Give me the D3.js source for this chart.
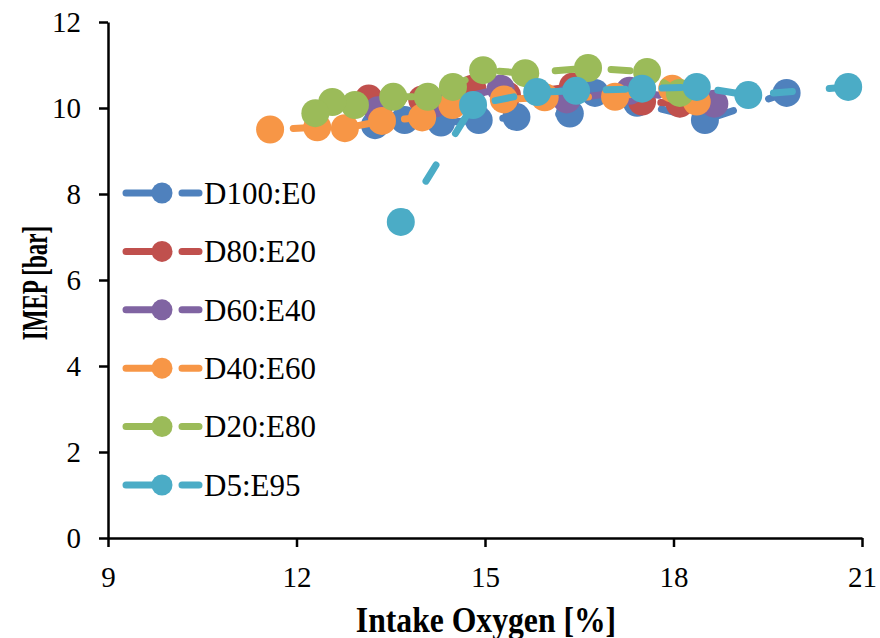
<!DOCTYPE html>
<html lang="en">
<head>
<meta charset="UTF-8">
<title>IMEP vs Intake Oxygen</title>
<script src="https://d3js.org/d3.v7.min.js"></script>
<style>
  body { margin: 0; background: #fff; }
  text { font-family: "Liberation Serif", "Times New Roman", serif; fill: #000; }
  .axis-title { font-weight: bold; }
  .tick-label { font-size: 29px; }
  .legend-label { font-size: 31px; }
</style>
</head>
<body>
<script>
// series names in legend order
const seriesNames = ["D100:E0", "D80:E20", "D60:E40", "D40:E60", "D20:E80", "D5:E95"];
const seriesColors = ["#4F81BD", "#C0504D", "#8064A2", "#F79646", "#9BBB59", "#4BACC6"];

// [intake O2 %, IMEP bar], in measurement order (high O2 -> low O2)
const d100e0 = [[19.8, 10.35], [18.5, 9.72], [17.42, 10.12], [16.75, 10.35], [16.35, 9.87],
                [15.5, 9.79], [14.9, 9.72], [14.3, 9.66], [13.72, 9.72], [13.25, 9.6]];
const d80e20 = [[18.1, 10.1], [17.5, 10.15], [16.4, 10.5], [15.35, 10.3], [14.8, 10.45],
                [14.0, 10.2], [13.15, 10.22]];
const d60e40 = [[18.65, 10.1], [17.3, 10.4], [16.3, 10.2], [15.25, 10.45], [14.2, 10.1],
                [13.3, 9.95]];
const d40e60 = [[18.37, 10.15], [17.98, 10.45], [17.07, 10.26], [15.95, 10.25], [15.3, 10.2],
                [14.48, 10.07], [14.0, 9.78], [13.36, 9.7], [12.77, 9.53], [12.33, 9.55], [11.58, 9.5]];
const d20e80 = [[18.1, 10.35], [17.58, 10.84], [16.64, 10.93], [15.64, 10.81], [14.97, 10.88],
                [14.49, 10.49], [14.09, 10.26], [13.54, 10.26], [12.93, 10.07], [12.57, 10.14], [12.3, 9.88]];
const d5e95 = [[20.78, 10.49], [19.19, 10.3], [18.37, 10.49], [17.5, 10.45], [16.45, 10.4],
               [15.83, 10.37], [14.81, 10.07], [13.66, 7.35]];

const allSeries = [d100e0, d80e20, d60e40, d40e60, d20e80, d5e95];

const xTicks = [9, 12, 15, 18, 21];
const yTicks = [0, 2, 4, 6, 8, 10, 12];

const width = 880, height = 638;
const plotLeft = 108, plotRight = 862, plotTop = 22, plotBottom = 538;

const svg = d3.select("body").append("svg")
    .attr("width", width)
    .attr("height", height);

const x = d3.scaleLinear().domain([9, 21]).range([plotLeft, plotRight]);
const y = d3.scaleLinear().domain([0, 12]).range([plotBottom, plotTop]);

// axes
const xAxis = svg.append("g")
    .attr("transform", `translate(0,${plotBottom})`)
    .call(d3.axisBottom(x).tickValues(xTicks).tickSize(9).tickSizeOuter(0).tickPadding(19));
const yAxis = svg.append("g")
    .attr("transform", `translate(${plotLeft},0)`)
    .call(d3.axisLeft(y).tickValues(yTicks).tickSize(9).tickSizeOuter(0).tickPadding(18));

[xAxis, yAxis].forEach(g => {
    g.attr("font-family", null).attr("font-size", null);
    g.select(".domain").attr("stroke", "#000").attr("stroke-width", 2.5);
    g.selectAll(".tick line").attr("stroke", "#000").attr("stroke-width", 2.5);
    g.selectAll(".tick text").attr("class", "tick-label");
});
xAxis.selectAll(".tick text").attr("dy", "0.71em");
yAxis.selectAll(".tick text").attr("dy", "0.34em");

// axis titles (the original uses a narrow bold serif)
svg.append("text")
    .attr("class", "axis-title")
    .attr("transform", `translate(486,632) scale(0.88,1)`)
    .attr("font-size", 36)
    .attr("text-anchor", "middle")
    .text("Intake Oxygen [%]");

svg.append("text")
    .attr("class", "axis-title")
    .attr("transform", `translate(47,283) rotate(-90) scale(0.64,1)`)
    .attr("font-size", 36)
    .attr("text-anchor", "middle")
    .text("IMEP [bar]");

// series
const line = d3.line().x(d => x(d[0])).y(d => y(d[1]));
const plot = svg.append("g");

allSeries.forEach((data, i) => {
    const g = plot.append("g");
    g.append("path")
        .datum(data)
        .attr("d", line)
        .attr("fill", "none")
        .attr("stroke", seriesColors[i])
        .attr("stroke-width", 7)
        .attr("stroke-dasharray", "19,37")
        .attr("stroke-linecap", "round");
    g.selectAll("circle")
        .data(data)
        .join("circle")
        .attr("cx", d => x(d[0]))
        .attr("cy", d => y(d[1]))
        .attr("r", 14)
        .attr("fill", seriesColors[i]);
});

// legend
const legend = svg.append("g");
seriesNames.forEach((name, i) => {
    const ly = 193 + i * 58.4;
    const row = legend.append("g").attr("transform", `translate(0,${ly})`);
    row.append("path")
        .attr("d", "M126,0H199")
        .attr("stroke", seriesColors[i])
        .attr("stroke-width", 7)
        .attr("stroke-linecap", "round")
        .attr("stroke-dasharray", "26,30");
    row.append("circle")
        .attr("cx", 162)
        .attr("cy", 0)
        .attr("r", 10.5)
        .attr("fill", seriesColors[i]);
    row.append("text")
        .attr("class", "legend-label")
        .attr("x", 204)
        .attr("y", 0)
        .attr("dy", "0.35em")
        .text(name);
});
</script>
</body>
</html>
